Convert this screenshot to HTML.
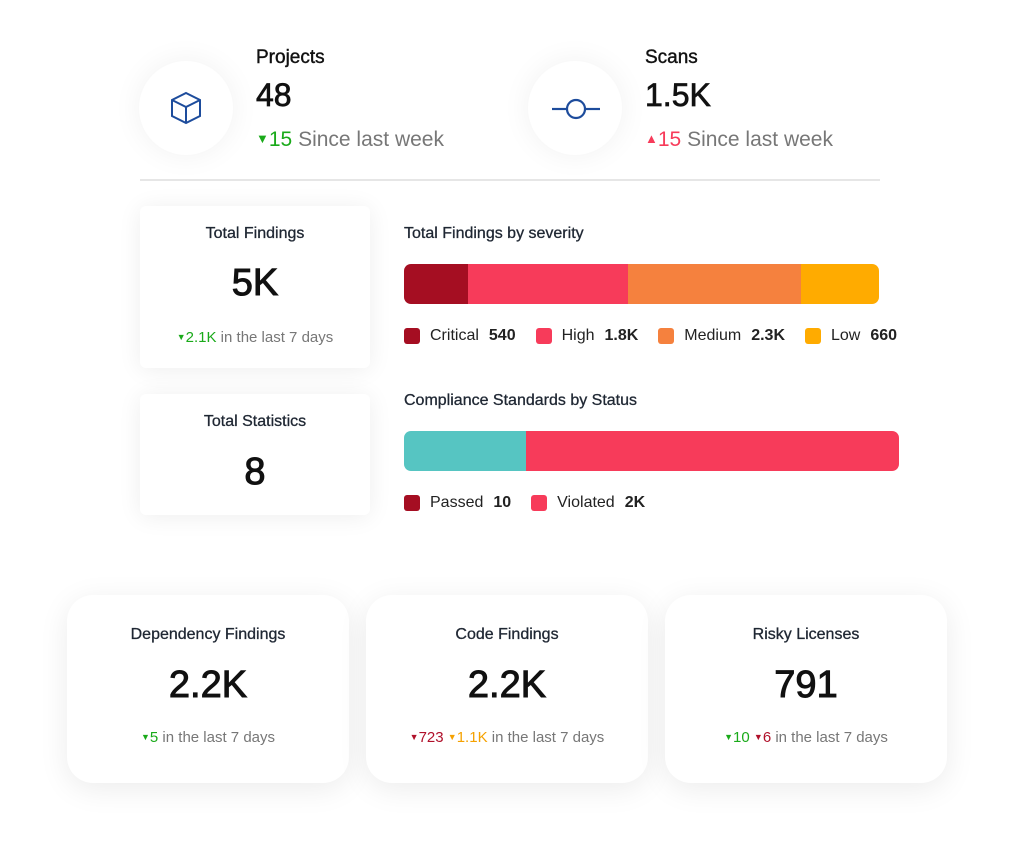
<!DOCTYPE html>
<html><head><style>
body{margin:0;width:1024px;height:862px;background:#fff;font-family:"Liberation Sans",sans-serif;position:relative;overflow:hidden}
.a{position:absolute}
.circ{position:absolute;width:94px;height:94px;border-radius:50%;background:#fff;box-shadow:0 0 30px rgba(0,0,0,0.06)}
.card{position:absolute;background:#fff;border-radius:6px;box-shadow:0 2px 24px rgba(0,0,0,0.07);text-align:center}
.bc{position:absolute;background:#fff;border-radius:26px;box-shadow:0 6px 30px rgba(0,0,0,0.08);text-align:center;top:595px;height:188px;width:282px}
.t{color:#1f2733;font-size:16px;-webkit-text-stroke:0.3px #1f2733}
.big{color:#111;font-size:38px;-webkit-text-stroke:1px #111}
.sub{color:#777;font-size:15px}
.g{color:#1aaa1a}.r{color:#b0102a}.o{color:#f5a100}
.tri{font-size:9px;vertical-align:2px}
.lg{position:absolute;font-size:16px;color:#222;display:flex;align-items:center}
.sq{width:16px;height:16px;border-radius:3px;margin-right:10px;display:inline-block}
.lg b{margin-left:10px;margin-right:20px}
</style></head><body>
<div class="circ" style="left:139px;top:61px"></div>
<svg class="a" style="left:168px;top:90px" width="36" height="36" viewBox="0 0 36 36"><g fill="none" stroke="#1d4c9c" stroke-width="2"><path d="M18 3 L32 10 L32 26 L18 33 L4 26 L4 10 Z"/><path d="M4 10 L18 17 L32 10 M18 17 L18 33"/></g></svg>
<div class="circ" style="left:528px;top:61px"></div>
<svg class="a" style="left:550px;top:96px" width="52" height="26"><g fill="none" stroke="#1d4c9c" stroke-width="2.2"><line x1="2" y1="13" x2="16" y2="13"/><line x1="36" y1="13" x2="50" y2="13"/><circle cx="26" cy="13" r="9"/></g></svg>
<div class="a" style="left:256px;top:47px;font-size:19px;color:#111;-webkit-text-stroke:0.4px #111">Projects</div>
<div class="a" style="left:256px;top:77px;font-size:32px;color:#111;-webkit-text-stroke:0.7px #111">48</div>
<div class="a" style="left:256px;top:128px;font-size:21px;color:#777"><span class="g"><span style="font-size:13px;vertical-align:3px">▼</span>15</span> Since last week</div>
<div class="a" style="left:645px;top:47px;font-size:19px;color:#111;-webkit-text-stroke:0.4px #111">Scans</div>
<div class="a" style="left:645px;top:77px;font-size:32px;color:#111;-webkit-text-stroke:0.7px #111">1.5K</div>
<div class="a" style="left:645px;top:128px;font-size:21px;color:#777"><span style="color:#f73b5a"><span style="font-size:13px;vertical-align:3px">▲</span>15</span> Since last week</div>
<div class="a" style="left:140px;top:179px;width:740px;height:2px;background:#e6e6e6"></div>

<div class="card" style="left:140px;top:206px;width:230px;height:162px">
<div class="t" style="margin-top:19px">Total Findings</div>
<div class="big" style="margin-top:19px">5K</div>
<div class="sub" style="margin-top:24px"><span class="g"><span class="tri">▼</span>2.1K</span> in the last 7 days</div></div>
<div class="card" style="left:140px;top:394px;width:230px;height:121px">
<div class="t" style="margin-top:19px">Total Statistics</div>
<div class="big" style="margin-top:20px">8</div></div>

<div class="a t" style="left:404px;top:225px">Total Findings by severity</div>
<div class="a" style="left:404px;top:264px;width:475px;height:40px;border-radius:7px;overflow:hidden;display:flex">
<div style="width:64px;background:#a50e22"></div><div style="width:160px;background:#f73b5a"></div><div style="width:173px;background:#f5813e"></div><div style="flex:1;background:#ffab00"></div></div>
<div class="lg" style="left:404px;top:327px"><span class="sq" style="background:#a50e22"></span>Critical<b>540</b><span class="sq" style="background:#f73b5a"></span>High<b>1.8K</b><span class="sq" style="background:#f5813e"></span>Medium<b>2.3K</b><span class="sq" style="background:#ffab00"></span>Low<b>660</b></div>

<div class="a t" style="left:404px;top:392px">Compliance Standards by Status</div>
<div class="a" style="left:404px;top:431px;width:495px;height:40px;border-radius:7px;overflow:hidden;display:flex">
<div style="width:122px;background:#56c5c2"></div><div style="flex:1;background:#f73b5a"></div></div>
<div class="lg" style="left:404px;top:494px"><span class="sq" style="background:#a50e22"></span>Passed<b>10</b><span class="sq" style="background:#f73b5a"></span>Violated<b>2K</b></div>

<div class="bc" style="left:67px"><div class="t" style="margin-top:31px">Dependency Findings</div><div class="big" style="margin-top:20px">2.2K</div><div class="sub" style="margin-top:22px"><span class="g"><span class="tri">▼</span>5</span> in the last 7 days</div></div>
<div class="bc" style="left:366px"><div class="t" style="margin-top:31px">Code Findings</div><div class="big" style="margin-top:20px">2.2K</div><div class="sub" style="margin-top:22px"><span class="r"><span class="tri">▼</span>723</span> <span class="o"><span class="tri">▼</span>1.1K</span> in the last 7 days</div></div>
<div class="bc" style="left:665px"><div class="t" style="margin-top:31px">Risky Licenses</div><div class="big" style="margin-top:20px">791</div><div class="sub" style="margin-top:22px"><span class="g"><span class="tri">▼</span>10</span> <span class="r"><span class="tri">▼</span>6</span> in the last 7 days</div></div>
</body></html>
